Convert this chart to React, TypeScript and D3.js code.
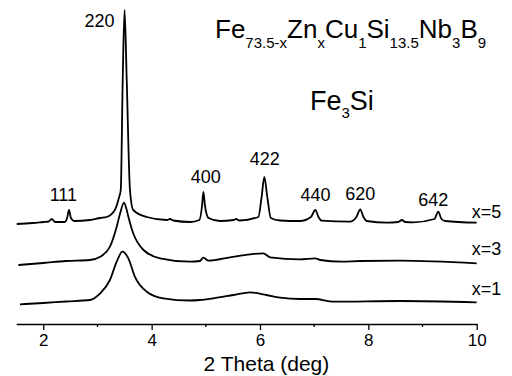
import { useEffect, useRef } from "react";
import * as d3 from "d3";

// XRD patterns, 2 theta (deg) vs intensity (a.u., curves already offset)
const theta5 = [1.51, 1.8, 2.0, 2.1, 2.155, 2.22, 2.4, 2.44, 2.475, 2.51, 2.57, 2.86, 3.05, 3.17, 3.32, 3.4, 3.43, 3.466, 3.5, 3.54, 3.6, 3.66, 3.91, 4.28, 4.34, 4.4, 4.71, 4.88, 4.93, 4.955, 4.985, 5.05, 5.26, 5.51, 5.56, 5.62, 5.97, 6.03, 6.08, 6.135, 6.2, 6.37, 6.74, 6.94, 7.02, 7.08, 7.14, 7.66, 7.78, 7.85, 7.91, 7.97, 8.34, 8.55, 8.62, 8.68, 8.83, 9.22, 9.29, 9.35, 9.42, 10.0];
const int5 = [100, 101, 102, 102.5, 105, 102, 102, 106, 114, 106, 103, 104, 106, 107, 114, 127, 134, 244, 314, 244, 134, 114, 107, 104, 105, 103.5, 102, 104, 118, 132, 118, 106, 103, 104, 105, 103.5, 107, 127, 147, 127, 106, 103.5, 103, 107, 114, 107, 103.3, 102.3, 107, 114.7, 107, 103, 101.3, 102, 104, 102, 101.7, 105, 112.3, 105, 103, 101.3];

const theta3 = [1.54, 2.0, 2.42, 2.86, 3.05, 3.23, 3.355, 3.42, 3.49, 3.53, 3.57, 3.66, 3.85, 4.155, 4.71, 4.89, 4.955, 5.05, 5.45, 5.82, 6.06, 6.185, 6.74, 7.02, 7.11, 7.5, 7.85, 8.59, 10.0];
const int3 = [59, 61, 63, 64, 67.3, 77.3, 97.3, 111, 121.3, 116, 107.3, 90.7, 74, 65.7, 62.3, 63, 66.3, 63.3, 66.7, 69.7, 70.7, 66.7, 64.7, 65.7, 64, 62.3, 63, 63.3, 60.7];

const theta1 = [1.57, 2.0, 2.42, 2.86, 3.05, 3.23, 3.355, 3.46, 3.57, 3.69, 3.91, 4.215, 4.71, 4.89, 5.14, 5.51, 5.82, 6.12, 6.37, 6.74, 7.02, 7.35, 8.59, 10.0];
const int1 = [19.7, 21, 22.5, 24, 30.7, 44, 62.3, 72.3, 65.7, 47.3, 32.3, 25.7, 23.5, 24, 25.7, 29, 31.7, 29, 26.3, 25, 25, 22.3, 23, 21.7];

const seriesNames = ["x=5", "x=3", "x=1"];
const seriesLabelAt = [106, 69, 29];

// Fe3Si reflections: label, 2theta and intensity where the label sits
const hkl = ["111", "220", "400", "422", "440", "620", "642"];
const hklTheta = [2.37, 3.04, 5.0, 6.09, 7.025, 7.85, 9.2];
const hklLabelAt = [123.3, 297, 141, 159, 123.3, 124, 118];

const xTicks = [2, 4, 6, 8, 10];
const xMinorTicks = [3, 5, 7, 9];

const FONT = "'Liberation Sans', Arial, sans-serif";

export default function App() {
  const svgRef = useRef<SVGSVGElement>(null);

  useEffect(() => {
    if (!svgRef.current) return;
    const svg = d3.select(svgRef.current);
    svg.selectAll("*").remove();

    const x = d3.scaleLinear().domain([1.5, 10]).range([16.2, 476.7]);
    const y = d3.scaleLinear().domain([0, 320]).range([324, 4]);

    const line = d3
      .line<[number, number]>()
      .x((d) => x(d[0]))
      .y((d) => y(d[1]))
      .curve(d3.curveMonotoneX);

    const series = [
      d3.zip(theta5, int5),
      d3.zip(theta3, int3),
      d3.zip(theta1, int1),
    ] as [number, number][][];

    svg
      .selectAll(".pattern")
      .data(series)
      .join("path")
      .attr("d", (d) => line(d))
      .attr("fill", "none")
      .attr("stroke", "#000")
      .attr("stroke-width", 1.8)
      .attr("stroke-linejoin", "round");

    // series labels
    svg
      .selectAll(".slabel")
      .data(seriesNames)
      .join("text")
      .attr("x", x(9.91))
      .attr("y", (_, i) => y(seriesLabelAt[i]))
      .attr("font-family", FONT)
      .attr("font-size", "18px")
      .text((d) => d);

    // reflection labels
    svg
      .selectAll(".hkl")
      .data(hkl)
      .join("text")
      .attr("x", (_, i) => x(hklTheta[i]))
      .attr("y", (_, i) => y(hklLabelAt[i]))
      .attr("text-anchor", "middle")
      .attr("font-family", FONT)
      .attr("font-size", "18px")
      .text((d) => d);

    // x axis
    const axis = svg.append("g").attr("transform", `translate(0,${y(0)})`);
    axis.call(
      d3
        .axisBottom(x)
        .tickValues(xTicks)
        .tickSize(6)
        .tickSizeOuter(0)
        .tickFormat(d3.format("d"))
    );
    axis.select(".domain").attr("stroke-width", 1.3);
    axis.selectAll(".tick line").attr("stroke-width", 1.3);
    axis
      .selectAll(".tick text")
      .attr("y", 22)
      .attr("dy", null)
      .attr("font-family", FONT)
      .attr("font-size", "17px")
      .attr("fill", "#000");

    axis
      .selectAll(".minor")
      .data(xMinorTicks)
      .join("line")
      .attr("x1", (d) => x(d))
      .attr("x2", (d) => x(d))
      .attr("y1", 0)
      .attr("y2", 3)
      .attr("stroke", "#000")
      .attr("stroke-width", 1.3);

    svg
      .append("text")
      .attr("x", (x(1.5) + x(10)) / 2 + 20)
      .attr("y", 371)
      .attr("text-anchor", "middle")
      .attr("font-family", FONT)
      .attr("font-size", "21px")
      .text("2 Theta (deg)");

    // composition title with subscripts
    const parts: [string, boolean][] = [
      ["Fe", false], ["73.5-x", true], ["Zn", false], ["x", true],
      ["Cu", false], ["1", true], ["Si", false], ["13.5", true],
      ["Nb", false], ["3", true], ["B", false], ["9", true],
    ];
    const title = svg
      .append("text")
      .attr("x", 215)
      .attr("y", 38)
      .attr("font-family", FONT);
    let sub = false;
    parts.forEach(([t, s]) => {
      title
        .append("tspan")
        .attr("dy", s === sub ? 0 : s ? 10 : -10)
        .attr("font-size", s ? "15px" : "26px")
        .text(t);
      sub = s;
    });

    const phase = svg
      .append("text")
      .attr("x", 310)
      .attr("y", 110)
      .attr("font-family", FONT);
    phase.append("tspan").attr("font-size", "27px").text("Fe");
    phase.append("tspan").attr("font-size", "15px").attr("dy", 8).text("3");
    phase.append("tspan").attr("font-size", "27px").attr("dy", -8).text("Si");
  }, []);

  return (
    <svg
      ref={svgRef}
      width={512}
      height={376}
      style={{ position: "absolute", left: 0, top: 0, background: "#fff" }}
      role="img"
      aria-label="XRD patterns of Fe73.5-xZnxCu1Si13.5Nb3B9"
    />
  );
}
